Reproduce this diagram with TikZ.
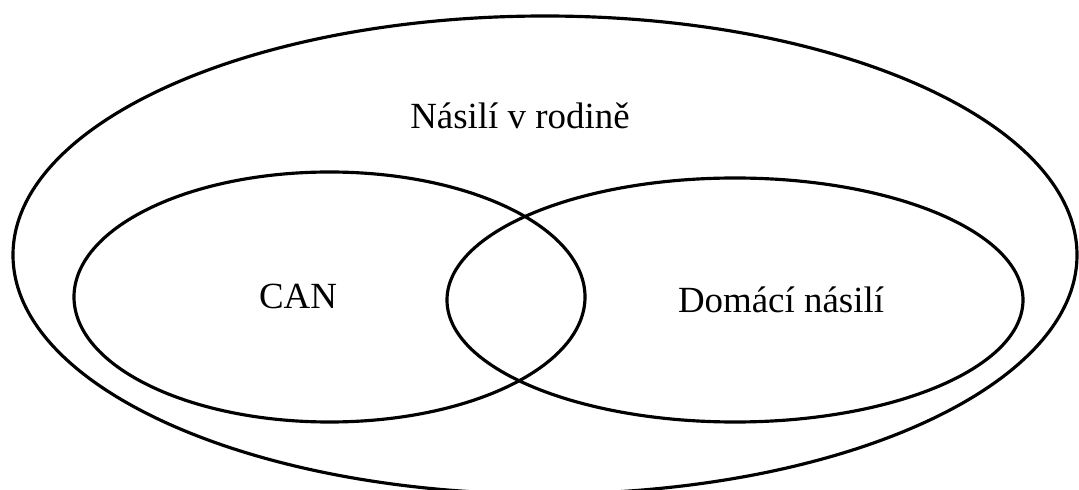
\documentclass[tikz,border=0pt]{standalone}
\usepackage{fontspec}
\setmainfont{Liberation Serif}

\begin{document}
\begin{tikzpicture}[line width=1.8pt]
    \useasboundingbox (0,0) rectangle (21.58,9.78);
    \draw (10.9,4.68) ellipse (10.64cm and 4.78cm);
    \draw (6.59,3.84) ellipse (5.11cm and 2.5cm);
    \draw (14.7,3.78) ellipse (5.76cm and 2.44cm);
    \node[anchor=base,font=\fontsize{21}{25}\selectfont] (rodina) at (10.4,7.2) {Násilí v rodině};
    \node[anchor=base,font=\fontsize{21}{25}\selectfont] (can) at (5.96,3.6) {CAN};
    \node[anchor=base,font=\fontsize{21}{25}\selectfont] (domaci) at (15.62,3.54) {Domácí násilí};
  \end{tikzpicture}
\end{document}
